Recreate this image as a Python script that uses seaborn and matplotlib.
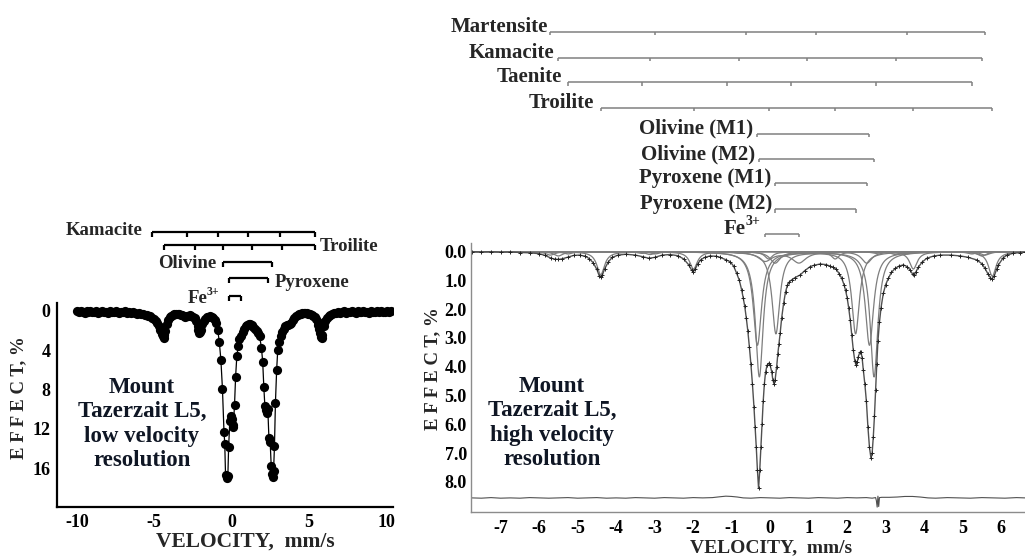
import numpy as np
import matplotlib
matplotlib.use("Agg")
import matplotlib.pyplot as plt
import seaborn as sns
import pandas as pd

# ---------------- data: low velocity resolution spectrum ----------------
low_v = [-10.0, -9.875, -9.75, -9.625, -9.5, -9.375, -9.25, -9.125, -9.0, -8.875, -8.75,
         -8.625, -8.5, -8.375, -8.25, -8.125, -8.0, -7.875, -7.75, -7.625, -7.5, -7.375,
         -7.25, -7.125, -7.0, -6.875, -6.75, -6.625, -6.5, -6.375, -6.25, -6.125, -6.0,
         -5.875, -5.75, -5.625, -5.5, -5.375, -5.25, -5.125, -5.0, -4.9, -4.8, -4.7,
         -4.6, -4.5, -4.45, -4.4, -4.35, -4.3, -4.2, -4.1, -4.0, -3.9, -3.8, -3.7,
         -3.6, -3.5, -3.4, -3.3, -3.2, -3.1, -3.0, -2.9, -2.8, -2.7, -2.6, -2.5, -2.4,
         -2.3, -2.2, -2.15, -2.1, -2.05, -2.0, -1.9, -1.8, -1.7, -1.6, -1.5, -1.4, -1.3,
         -1.2, -1.1, -1.0, -0.9, -0.8, -0.7, -0.6, -0.5, -0.45, -0.4, -0.33, -0.25,
         -0.2, -0.12, -0.05, 0.0, 0.05, 0.1, 0.18, 0.25, 0.33, 0.42, 0.5, 0.6, 0.7,
         0.8, 0.9, 1.0, 1.1, 1.2, 1.3, 1.4, 1.5, 1.6, 1.7, 1.8, 1.92, 2.0, 2.07, 2.14,
         2.2, 2.27, 2.33, 2.4, 2.48, 2.55, 2.6, 2.65, 2.7, 2.76, 2.82, 2.9, 2.97, 3.05,
         3.15, 3.25, 3.35, 3.45, 3.55, 3.65, 3.75, 3.85, 3.95, 4.05, 4.15, 4.25, 4.35,
         4.45, 4.55, 4.65, 4.75, 4.85, 4.95, 5.05, 5.15, 5.25, 5.35, 5.45, 5.55, 5.6,
         5.65, 5.7, 5.75, 5.8, 5.85, 5.95, 6.05, 6.15, 6.25, 6.375, 6.5, 6.625, 6.75,
         6.875, 7.0, 7.125, 7.25, 7.375, 7.5, 7.625, 7.75, 7.875, 8.0, 8.125, 8.25,
         8.375, 8.5, 8.625, 8.75, 8.875, 9.0, 9.125, 9.25, 9.375, 9.5, 9.625, 9.75,
         9.875, 10.0, 10.125, 10.25]
low_eff = [0.05, 0.15, 0.0, 0.1, 0.2, 0.05, 0.1, 0.0, 0.15, 0.1, 0.05,
           0.2, 0.1, 0.0, 0.15, 0.1, 0.2, 0.05, 0.1, 0.15, 0.0, 0.1,
           0.2, 0.1, 0.15, 0.05, 0.2, 0.1, 0.25, 0.15, 0.2, 0.3, 0.25,
           0.35, 0.3, 0.45, 0.4, 0.5, 0.55, 0.7, 0.8, 1.0, 1.3, 1.6,
           2.0, 2.4, 2.6, 2.8, 2.5, 2.1, 1.4, 0.9, 0.6, 0.5, 0.4, 0.35,
           0.3, 0.35, 0.3, 0.4, 0.45, 0.5, 0.6, 0.55, 0.5, 0.45, 0.5, 0.6, 0.75,
           1.0, 1.6, 2.0, 2.3, 2.2, 2.0, 1.4, 1.0, 0.8, 0.65, 0.6, 0.55, 0.65,
           0.75, 0.9, 1.3, 2.0, 3.2, 5.0, 7.9, 12.3, 13.5, 16.7, 17.0, 16.8,
           13.8, 11.2, 10.7, 11.0, 11.6, 11.8, 9.6, 6.7, 4.6, 3.6, 2.9, 2.6, 2.2,
           1.9, 1.6, 1.45, 1.35, 1.4, 1.5, 1.7, 1.9, 2.1, 2.3, 2.6, 3.8, 5.2, 7.7, 9.7,
           10.1, 10.4, 10.0, 12.9, 13.3, 15.8, 16.6, 16.9, 16.3, 13.7, 9.4, 6.0, 4.0, 3.2,
           2.6, 2.2, 1.9, 1.6, 1.5, 1.45, 1.4, 1.2, 0.9, 0.7, 0.5, 0.4, 0.35,
           0.3, 0.25, 0.2, 0.25, 0.2, 0.3, 0.35, 0.4, 0.5, 0.6, 0.8, 1.1, 1.5,
           1.9, 2.3, 2.7, 2.8, 2.5, 1.6, 1.0, 0.7, 0.5, 0.4, 0.3, 0.2, 0.25,
           0.1, 0.2, 0.15, 0.05, 0.2, 0.1, 0.15, 0.0, 0.1, 0.2, 0.05, 0.15,
           0.1, 0.0, 0.15, 0.1, 0.2, 0.05, 0.1, 0.15, 0.0, 0.1, 0.05, 0.15,
           0.1, 0.0, 0.1, 0.05]
left_xticks = [-10, -5, 0, 5, 10]
left_yticks = [0, 4, 8, 12, 16]

# left panel marker bars (line positions, mm/s)
left_kamacite = [-5.17, -2.91, -0.90, 1.03, 3.10, 5.37]
left_troilite = [-4.40, -2.39, -0.58, 1.29, 3.23, 5.37]
left_olivine = [-0.58, 2.58]
left_pyroxene = [-0.19, 2.32]
left_fe3 = [-0.19, 0.58]

# ---------------- data: high velocity resolution spectrum ----------------
hi_v = [-7.75, -7.5, -7.25, -7.0, -6.75, -6.5, -6.25, -6.0, -5.85, -5.7, -5.6, -5.5,
        -5.4, -5.25, -5.1, -4.95, -4.8, -4.7, -4.6, -4.5, -4.44, -4.40, -4.36, -4.3,
        -4.2, -4.1, -3.95, -3.75, -3.5, -3.3, -3.15, -3.0, -2.8, -2.6, -2.4, -2.25,
        -2.12, -2.04, -2.0, -1.95, -1.88, -1.8, -1.7, -1.56, -1.4, -1.3, -1.15, -1.04,
        -0.95, -0.87, -0.80, -0.74, -0.70, -0.66, -0.62, -0.58, -0.54, -0.50, -0.46,
        -0.42, -0.39, -0.36, -0.33, -0.30, -0.27, -0.24, -0.21, -0.18, -0.15, -0.12,
        -0.08, -0.04, 0.00, 0.04, 0.07, 0.10, 0.13, 0.17, 0.20, 0.23, 0.26, 0.30,
        0.35, 0.40, 0.45, 0.50, 0.56, 0.65, 0.78, 0.90, 1.04, 1.15, 1.30, 1.45, 1.55,
        1.64, 1.72, 1.80, 1.86, 1.92, 1.96, 2.00, 2.04, 2.08, 2.12, 2.16, 2.20, 2.23,
        2.26, 2.29, 2.33, 2.36, 2.39, 2.42, 2.46, 2.50, 2.54, 2.58, 2.62, 2.65, 2.68,
        2.71, 2.74, 2.77, 2.80, 2.84, 2.88, 2.94, 3.00, 3.07, 3.15, 3.25, 3.35, 3.46,
        3.56, 3.64, 3.70, 3.73, 3.78, 3.85, 3.95, 4.07, 4.25, 4.42, 4.70, 4.94, 5.15,
        5.37, 5.50, 5.58, 5.66, 5.72, 5.76, 5.82, 5.88, 5.93, 6.05, 6.15, 6.30, 6.49, 6.62]
hi_eff = [0.00, 0.01, 0.00, 0.02, 0.01, 0.03, 0.04, 0.07, 0.13, 0.22, 0.26, 0.27,
          0.25, 0.19, 0.13, 0.12, 0.16, 0.24, 0.38, 0.62, 0.84, 0.89, 0.82, 0.60,
          0.35, 0.20, 0.12, 0.09, 0.12, 0.18, 0.23, 0.20, 0.12, 0.10, 0.14, 0.25,
          0.45, 0.64, 0.70, 0.62, 0.42, 0.28, 0.20, 0.15, 0.16, 0.20, 0.28, 0.35,
          0.50, 0.75, 1.00, 1.33, 1.60, 1.90, 2.30, 2.75, 3.30, 3.90, 4.60,
          5.40, 6.10, 6.80, 7.60, 8.23, 7.60, 6.80, 6.00, 5.20, 4.60, 4.20,
          3.95, 3.88, 3.95, 4.17, 4.45, 4.60, 4.45, 4.00, 3.55, 3.20, 2.84, 2.30,
          1.80, 1.40, 1.16, 1.05, 0.98, 0.90, 0.81, 0.66, 0.52, 0.47, 0.43, 0.45, 0.50,
          0.55, 0.62, 0.78, 0.93, 1.15, 1.35, 1.60, 1.95, 2.37, 2.90, 3.42, 3.80, 3.94,
          3.85, 3.65, 3.50, 3.48, 3.70, 4.11, 4.60, 5.20, 6.10, 6.80, 7.19, 7.00, 6.43,
          5.70, 4.80, 3.90, 3.10, 2.45, 1.95, 1.45, 1.15, 0.93, 0.72, 0.58, 0.50, 0.46,
          0.52, 0.64, 0.78, 0.81, 0.72, 0.54, 0.36, 0.23, 0.15, 0.12, 0.12, 0.15, 0.20,
          0.29, 0.42, 0.58, 0.78, 0.90, 0.96, 0.85, 0.62, 0.46, 0.22, 0.12, 0.06, 0.03, 0.02]

# residual (difference) line, drawn offset at the bottom
res_v = [-7.75, -7.5, -7.25, -7.0, -6.75, -6.5, -6.25, -6.0, -5.75, -5.5, -5.25, -5.0,
         -4.75, -4.5, -4.25, -4.0, -3.75, -3.5, -3.25, -3.0, -2.75, -2.5, -2.25, -2.0,
         -1.75, -1.5, -1.3, -1.15, -1.0, -0.85, -0.7, -0.5, -0.25, 0.0, 0.25, 0.5,
         0.75, 1.0, 1.25, 1.5, 1.75, 2.0, 2.25, 2.5, 2.65, 2.74, 2.76, 2.78, 2.80,
         2.82, 2.84, 2.9, 3.1, 3.3, 3.5, 3.7, 3.9, 4.1, 4.3, 4.6, 4.9, 5.2, 5.5,
         5.8, 6.1, 6.4, 6.62]
res_eff = [8.56, 8.57, 8.55, 8.57, 8.56, 8.57, 8.55, 8.56, 8.57, 8.56, 8.55, 8.57,
           8.56, 8.55, 8.57, 8.56, 8.57, 8.55, 8.56, 8.57, 8.55, 8.56, 8.57, 8.55,
           8.56, 8.55, 8.52, 8.50, 8.51, 8.53, 8.56, 8.57, 8.55, 8.56, 8.57, 8.55,
           8.56, 8.57, 8.55, 8.56, 8.57, 8.55, 8.56, 8.55, 8.57, 8.55, 8.66, 8.88,
           8.50, 8.86, 8.55, 8.54, 8.54, 8.53, 8.51, 8.51, 8.53, 8.56, 8.57, 8.55,
           8.56, 8.57, 8.55, 8.56, 8.57, 8.55, 8.56]
right_xticks = [-7, -6, -5, -4, -3, -2, -1, 0, 1, 2, 3, 4, 5, 6]
right_yticks = [0.0, 1.0, 2.0, 3.0, 4.0, 5.0, 6.0, 7.0, 8.0]

# fitted subspectra: line positions (mm/s), line depths (%)
martensite_pos = [-5.71, -2.99, -0.62, 1.19, 3.55, 5.58]
martensite_dep = [0.12, 0.08, 0.04, 0.04, 0.08, 0.12]
kamacite_pos = [-5.50, -3.12, -0.81, 0.95, 3.26, 5.50]
kamacite_dep = [0.15, 0.10, 0.05, 0.05, 0.10, 0.15]
taenite_pos = [-5.25, -3.33, -1.12, 0.55, 2.75, 5.24]
taenite_dep = [0.08, 0.06, 0.03, 0.03, 0.06, 0.08]
troilite_pos = [-4.40, -1.99, -0.04, 1.69, 3.72, 5.77]
troilite_dep = [0.80, 0.60, 0.25, 0.25, 0.60, 0.85]
olivine_m1_pos = [-0.33, 2.58]
olivine_m1_dep = [3.25, 3.25]
olivine_m2_pos = [-0.28, 2.70]
olivine_m2_dep = [4.35, 4.35]
pyroxene_m1_pos = [0.13, 2.51]
pyroxene_m1_dep = [0.40, 0.40]
pyroxene_m2_pos = [0.15, 2.22]
pyroxene_m2_dep = [2.85, 2.85]
fe3_pos = [-0.13, 0.75]
fe3_dep = [0.32, 0.38]

# marker bars above the right panel
right_labels = ["Martensite", "Kamacite", "Taenite", "Troilite", "Olivine (M1)",
                "Olivine (M2)", "Pyroxene (M1)", "Pyroxene (M2)", "Fe"]
right_bar_pos = [martensite_pos, kamacite_pos, taenite_pos,
                 [-4.40, -1.99, -0.04, 1.69, 3.72, 5.77],
                 [-0.33, 2.58], [-0.28, 2.70], [0.13, 2.51], [0.13, 2.23],
                 [-0.13, 0.75]]

# ---------------- style ----------------
sns.set_style("white")
plt.rcParams["font.family"] = ["Liberation Serif", "DejaVu Serif"]
plt.rcParams["font.weight"] = "bold"
plt.rcParams["axes.unicode_minus"] = False

W, H = 1025, 556
fig = plt.figure(figsize=(W / 100, H / 100), dpi=100)

def fx(px):
    return px / W

def fy(py):
    return 1 - py / H

def draw_bar(ax, pos, y, tl, color, lw):
    ax.plot([pos[0], pos[-1]], [y, y], color=color, lw=lw, clip_on=False,
            solid_capstyle="butt")
    for p in pos:
        ax.plot([p, p], [y, y + tl], color=color, lw=lw, clip_on=False,
                solid_capstyle="butt")

def fe3_label(ax, x, y, fs, sup_fs, sup_w):
    ax.annotate("3+", xy=(x, y), xytext=(0, fs * 0.42), textcoords="offset points",
                ha="right", va="baseline", fontsize=sup_fs, annotation_clip=False)
    ax.annotate("Fe", xy=(x, y), xytext=(-sup_w, 0), textcoords="offset points",
                ha="right", va="baseline", fontsize=fs, annotation_clip=False)

# ================= left panel =================
ax1 = fig.add_axes([fx(57.3), fy(507.3), fx(393.3 - 57.3), (507.3 - 302.7) / H])
low_df = pd.DataFrame({"v": low_v, "e": low_eff})
sns.lineplot(data=low_df, x="v", y="e", ax=ax1, color="black", lw=0.9,
             estimator=None, sort=False)
sns.scatterplot(data=low_df, x="v", y="e", ax=ax1, color="black", s=44,
                edgecolor="black", linewidth=0, zorder=3)
ax1.set_xlim(-11.26, 10.43)
ax1.set_ylim(19.96, -0.81)
ax1.set_xticks(left_xticks)
ax1.set_yticks(left_yticks)
ax1.set_xticklabels([str(t) for t in left_xticks])
ax1.set_yticklabels([str(t) for t in left_yticks])
ax1.set_xlabel("")
ax1.set_ylabel("")
for s in ["top", "right"]:
    ax1.spines[s].set_visible(False)
for s in ["left", "bottom"]:
    ax1.spines[s].set_color("black")
    ax1.spines[s].set_linewidth(1.6)
ax1.tick_params(axis="both", direction="in", length=7, width=1.5, colors="black",
                labelsize=13)
ax1.tick_params(axis="y", pad=5)
ax1.tick_params(axis="x", pad=5)

ltl = 0.55
draw_bar(ax1, left_kamacite, -7.99, ltl, "black", 1.6)
draw_bar(ax1, left_troilite, -6.67, ltl, "black", 1.6)
draw_bar(ax1, left_olivine, -4.94, ltl, "black", 1.6)
draw_bar(ax1, left_pyroxene, -3.32, ltl, "black", 1.6)
draw_bar(ax1, left_fe3, -1.49, ltl, "black", 1.6)
lfs = 13.5
ax1.text(-5.75, -7.69, "Kamacite", ha="right", va="baseline", fontsize=lfs, clip_on=False)
ax1.text(5.69, -6.09, "Troilite", ha="left", va="baseline", fontsize=lfs, clip_on=False)
ax1.text(-0.97, -4.34, "Olivine", ha="right", va="baseline", fontsize=lfs, clip_on=False)
ax1.text(2.78, -2.44, "Pyroxene", ha="left", va="baseline", fontsize=lfs, clip_on=False)
fe3_label(ax1, -0.78, -0.75, lfs, 8.5, 8.5)

fig.text(fx(142), fy(424), "Mount\nTazerzait L5,\nlow velocity\nresolution",
         ha="center", va="center", fontsize=16.5, linespacing=1.22, color="#0f1624")
fig.text(fx(19), fy(398), "E F F E C T, %", rotation=90, ha="center", va="center",
         fontsize=13.5)
fig.text(fx(245), fy(542), "VELOCITY,  mm/s", ha="center", va="center", fontsize=15.5)

# ================= right panel =================
ax2 = fig.add_axes([fx(471), fy(511.7), fx(1025 - 471), (511.7 - 243.3) / H])
grid = np.linspace(-7.77, 6.62, 1800)
components = [
    (martensite_pos, martensite_dep, 0.14),
    (kamacite_pos, kamacite_dep, 0.14),
    (taenite_pos, taenite_dep, 0.14),
    (troilite_pos, troilite_dep, 0.12),
    (olivine_m1_pos, olivine_m1_dep, 0.13),
    (olivine_m2_pos, olivine_m2_dep, 0.12),
    (pyroxene_m1_pos, pyroxene_m1_dep, 0.16),
    (pyroxene_m2_pos, pyroxene_m2_dep, 0.12),
    (fe3_pos, fe3_dep, 0.22),
]
for pos, dep, hw in components:
    curve = np.zeros_like(grid)
    for p, d in zip(pos, dep):
        curve += d / (1.0 + ((grid - p) / hw) ** 2)
    sns.lineplot(x=grid, y=curve, ax=ax2, color="#7d7d7d", lw=0.9, estimator=None,
                 sort=False)

hi_df = pd.DataFrame({"v": hi_v, "e": hi_eff})
sns.lineplot(data=hi_df, x="v", y="e", ax=ax2, color="#505050", lw=1.0,
             estimator=None, sort=False, marker="+", markersize=3.5,
             markeredgecolor="#222222", markeredgewidth=0.7)
res_df = pd.DataFrame({"v": res_v, "e": res_eff})
sns.lineplot(data=res_df, x="v", y="e", ax=ax2, color="#505050", lw=0.8,
             estimator=None, sort=False)

ax2.set_xlim(-7.77, 6.62)
ax2.set_ylim(9.04, -0.29)
ax2.set_xticks(right_xticks)
ax2.set_yticks(right_yticks)
ax2.set_xticklabels([str(t) for t in right_xticks])
ax2.set_yticklabels([f"{t:.1f}" for t in right_yticks])
ax2.set_xlabel("")
ax2.set_ylabel("")
for s in ["top", "right"]:
    ax2.spines[s].set_visible(False)
for s in ["left", "bottom"]:
    ax2.spines[s].set_color("#8c8c8c")
    ax2.spines[s].set_linewidth(1.0)
ax2.tick_params(axis="x", direction="in", length=3, width=0.8, color="#8c8c8c",
                labelcolor="black", labelsize=13, pad=6)
ax2.tick_params(axis="y", direction="in", length=0, labelcolor="black",
                labelsize=13, pad=3)

right_rows = [-7.63, -6.73, -5.88, -4.99, -4.09, -3.21, -2.38, -1.47, -0.61]
right_text_x = [-5.78, -5.61, -5.41, -4.57, -0.43, -0.40, 0.03, 0.05, -0.26]
rfs = 15
for lab, pos, row, tx in zip(right_labels, right_bar_pos, right_rows, right_text_x):
    draw_bar(ax2, pos, row, 0.11, "#808080", 1.1)
    if lab == "Fe":
        fe3_label(ax2, tx, row, rfs, 10, 10.5)
    else:
        ax2.text(tx, row, lab, ha="right", va="baseline", fontsize=rfs, clip_on=False)

fig.text(fx(552), fy(423), "Mount\nTazerzait L5,\nhigh velocity\nresolution",
         ha="center", va="center", fontsize=16.5, linespacing=1.2, color="#0f1624")
fig.text(fx(433), fy(369), "E F F E C T, %", rotation=90, ha="center",
         va="center", fontsize=13.5)
fig.text(fx(771), fy(548), "VELOCITY,  mm/s", ha="center", va="center", fontsize=14)

fig.savefig("out.png", dpi=100)
